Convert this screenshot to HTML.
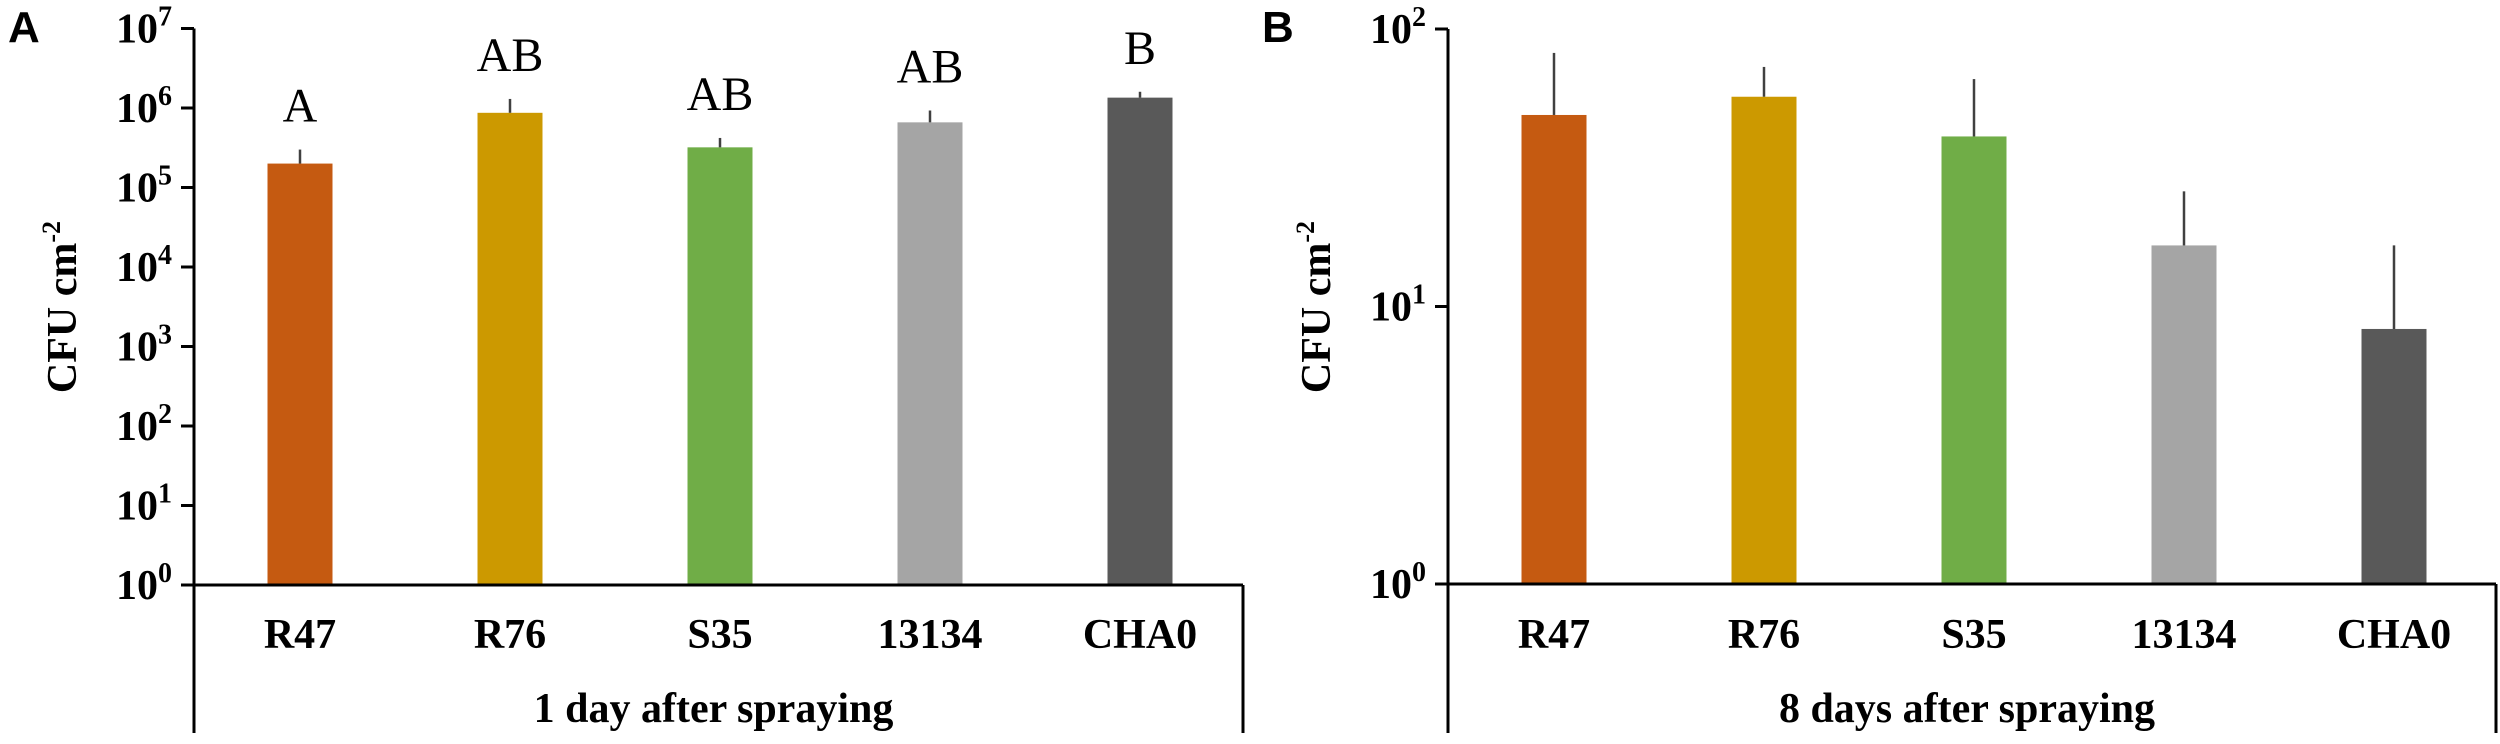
<!DOCTYPE html>
<html><head><meta charset="utf-8"><style>
html,body{margin:0;padding:0;background:#fff;}
svg{display:block;}
text{font-family:"Liberation Serif",serif;}
</style></head><body>
<svg id="chart" width="2500" height="744" viewBox="0 0 2500 744" xmlns="http://www.w3.org/2000/svg"></svg>
<script>
const categories = ["R47","R76","S35","13134","CHA0"];
const colors = ["#c55a11","#cc9900","#70ad47","#a5a5a5","#595959"];
const valuesA = [2.0e5, 0.87e6, 3.2e5, 6.6e5, 1.35e6];
const errTopA = [3.0e5, 1.3e6, 4.2e5, 9.3e5, 1.6e6];
const lettersA = ["A","AB","AB","AB","B"];
const ticksA = [0,1,2,3,4,5,6,7];
const valuesB = [49, 57, 41, 16.6, 8.3];
const errTopB = [82, 73, 66, 26, 16.6];
const ticksB = [0,1,2];

const NS = "http://www.w3.org/2000/svg";
const svg = document.getElementById('chart');
function mk(tag, attrs, parent){const e=document.createElementNS(NS,tag);for(const k in attrs)e.setAttribute(k,attrs[k]);(parent||svg).appendChild(e);return e;}

function panel(cfg){
  const g = mk('g',{});
  
  
  const y = v => cfg.y0 - (Math.log10(v) - cfg.minExp) * cfg.decade;
  const x = i => cfg.axisX + 106 + i * 210;
  const pl = mk('text',{x:cfg.axisX-186,y:42,'font-size':44,'font-weight':'bold',style:'font-family:"Liberation Sans",sans-serif'},g);
  pl.textContent = cfg.label;
  
  
  const yt = mk('text',{x:0,y:0,'font-size':42,'font-weight':'bold','text-anchor':'middle',transform:`translate(${cfg.axisX-118},307) rotate(-90)`},g);
  yt.innerHTML = 'CFU cm<tspan dy="-16" font-size="26">-2</tspan>';
  
  
  cfg.values.forEach((v,i)=>{
    const cx = x(i);
    const r = mk('rect',{x:cx-32.5,y:y(v),width:65,height:cfg.y0-y(v),fill:colors[i]},g);
    
    
    const e = mk('line',{x1:cx,x2:cx,y1:y(v),y2:y(cfg.err[i]),stroke:'#404040','stroke-width':2.5},g);
    
    
    if(cfg.letters){
      const t = mk('text',{x:cx,y:y(cfg.err[i])-28,'font-size':48,'text-anchor':'middle'},g);
      t.textContent = cfg.letters[i];
      
      
    }
    const c = mk('text',{x:cx,y:648,'font-size':42,'font-weight':'bold','text-anchor':'middle'},g);
    c.textContent = categories[i];
    
    
  });
  const ax = mk('line',{x1:cfg.axisX,x2:cfg.axisX,y1:cfg.y0 - (cfg.maxExp-cfg.minExp)*cfg.decade,y2:733,stroke:'#000','stroke-width':3},g);
  
  
  const xa = mk('line',{x1:cfg.axisX-12,x2:cfg.rightX,y1:cfg.y0,y2:cfg.y0,stroke:'#000','stroke-width':3},g);
  
  
  const rb = mk('line',{x1:cfg.rightX,x2:cfg.rightX,y1:cfg.y0,y2:733,stroke:'#000','stroke-width':3},g);
  
  
  cfg.ticks.forEach(k=>{
    const ty = y(Math.pow(10,k));
    const tl = mk('line',{x1:cfg.axisX-13,x2:cfg.axisX,y1:ty,y2:ty,stroke:'#000','stroke-width':3},g);
    
    
    const t = mk('text',{x:cfg.axisX-22,y:ty+14,'font-size':42,'font-weight':'bold','text-anchor':'end'},g);
    t.innerHTML = '10<tspan dy="-17" font-size="28">'+k+'</tspan>';
    
    
  });
  const st = mk('text',{x:(cfg.axisX+cfg.rightX)/2 - 5,y:722,'font-size':42,'font-weight':'bold','text-anchor':'middle'},g);
  st.textContent = cfg.subtitle;
  
  
}
panel({name:'panel-a',label:'A',axisX:194,rightX:1243,y0:585,decade:79.5,minExp:0,maxExp:7,ticks:ticksA,values:valuesA,err:errTopA,letters:lettersA,subtitle:'1 day after spraying'});
panel({name:'panel-b',label:'B',axisX:1448,rightX:2496,y0:584,decade:277.5,minExp:0,maxExp:2,ticks:ticksB,values:valuesB,err:errTopB,letters:null,subtitle:'8 days after spraying'});
</script>
</body></html>
